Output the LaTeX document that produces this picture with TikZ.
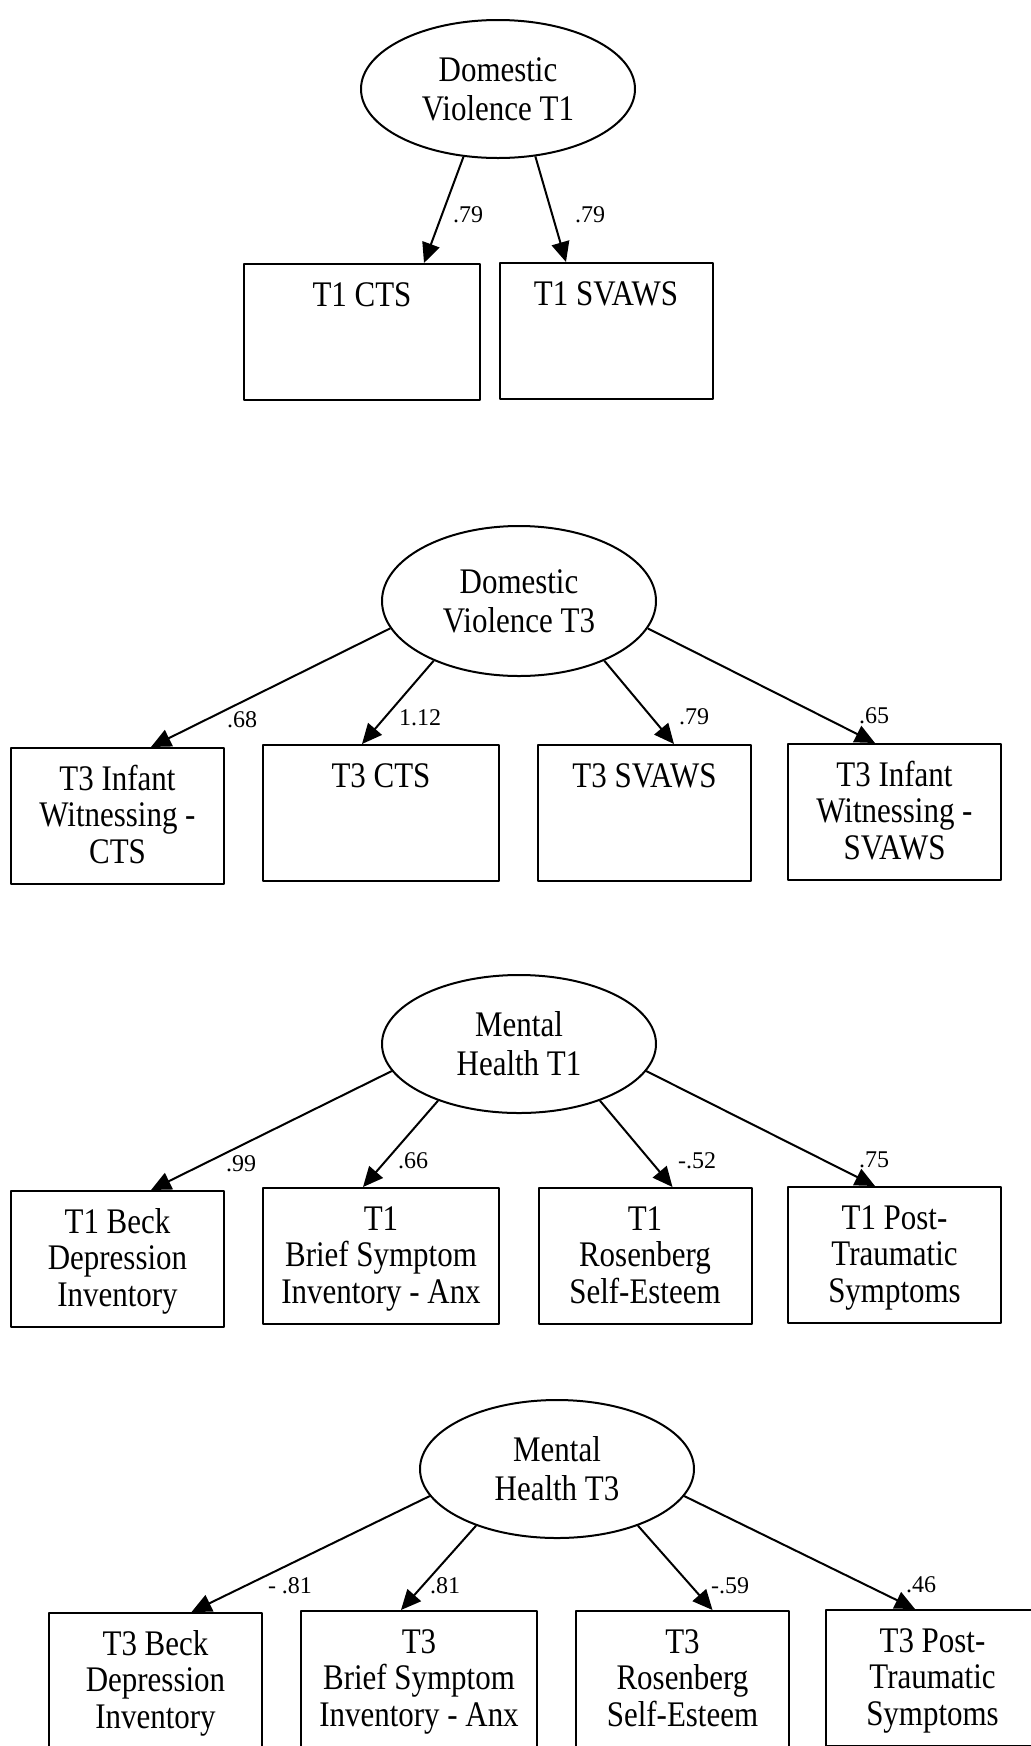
\documentclass[tikz,border=0pt]{standalone}
\usepackage{fontspec}
\setmainfont{Liberation Serif}[FakeStretch=0.86]
\newfontfamily\coeffont{Liberation Serif}
\usetikzlibrary{shapes.geometric,arrows.meta}
\newcommand{\boxtext}[1]{\begin{tabular}[t]{@{}c@{}}#1\end{tabular}}
\begin{document}
\begin{tikzpicture}[x=0.5pt,y=-0.5pt,>={Triangle[length=10pt,width=9pt]},line join=round]
	%%%% styles
	\tikzset{
		latent/.style={draw,ellipse,line width=1pt,minimum width=137pt,minimum height=69pt,inner sep=0pt,align=center,font=\fontsize{18}{19.5}\selectfont},
		obs/.style={draw,line width=1pt,minimum width=106.5pt,anchor=north,inner xsep=2pt,inner ysep=0pt,text height=21pt,text depth=47pt,font=\fontsize{18}{18.4}\selectfont},
		obswide/.style={obs,minimum width=118pt},
		load/.style={->,line width=1pt},
		coef/.style={inner sep=0pt,font=\coeffont\fontsize{12}{12}\selectfont}
	}
	\useasboundingbox (0,0) rectangle (1030,1746);
	%%%% Domestic Violence T1
	\node[latent] (dvA) at (498,89) {Domestic\\Violence T1};
	\node[obswide] (ctsA) at (362,263) {\boxtext{T1 CTS}};
	\node[obs] (svawsA) at (606,262) {\boxtext{T1 SVAWS}};
	\draw[load] (dvA.243) -- ([xshift=31pt]ctsA.north);
	\draw[load] (dvA.299) -- ([xshift=-20pt]svawsA.north);
	\node[coef] (cA1) at (468,215) {.79};
	\node[coef] (cA2) at (590,215) {.79};
	%%%% Domestic Violence T3
	\node[latent,minimum height=75pt] (dvB) at (519,601) {Domestic\\Violence T3};
	\node[obs] (infctsB) at (117.5,747) {\boxtext{T3 Infant\\Witnessing -\\CTS}};
	\node[obswide] (ctsB) at (381,744) {\boxtext{T3 CTS}};
	\node[obs] (svawsB) at (644.5,744) {\boxtext{T3 SVAWS}};
	\node[obs] (infsvB) at (894.5,743) {\boxtext{T3 Infant\\Witnessing -\\SVAWS}};
	\draw[load] (dvB.192) -- ([xshift=16.75pt]infctsB.north);
	\draw[load] (dvB.215) -- ([xshift=-9.5pt]ctsB.north);
	\draw[load] (dvB.325) -- ([xshift=14.75pt]svawsB.north);
	\draw[load] (dvB.348) -- ([xshift=-9.75pt]infsvB.north);
	\node[coef] (cB1) at (242,720) {.68};
	\node[coef] (cB2) at (420,718) {1.12};
	\node[coef] (cB3) at (694,717) {.79};
	\node[coef] (cB4) at (874,716) {.65};
	%%%% Mental Health T1
	\node[latent] (mhA) at (519,1044) {Mental\\Health T1};
	\node[obs] (beckA) at (117.5,1190) {\boxtext{T1 Beck\\Depression\\Inventory}};
	\node[obswide] (bsiA) at (381,1187) {\boxtext{T1\\Brief Symptom\\Inventory - Anx}};
	\node[obs] (rosA) at (645,1187) {\boxtext{T1\\Rosenberg\\Self-Esteem}};
	\node[obs] (ptsA) at (894.5,1186) {\boxtext{T1 Post-\\Traumatic\\Symptoms}};
	\draw[load] (mhA.192) -- ([xshift=16.75pt]beckA.north);
	\draw[load] (mhA.215) -- ([xshift=-9pt]bsiA.north);
	\draw[load] (mhA.325) -- ([xshift=13.75pt]rosA.north);
	\draw[load] (mhA.348) -- ([xshift=-9.75pt]ptsA.north);
	\node[coef] (cC1) at (241,1164) {.99};
	\node[coef] (cC2) at (413,1161) {.66};
	\node[coef] (cC3) at (697,1161) {-.52};
	\node[coef] (cC4) at (874,1160) {.75};
	%%%% Mental Health T3
	\node[latent] (mhB) at (557,1469) {Mental\\Health T3};
	\node[obs] (beckB) at (155.5,1612) {\boxtext{T3 Beck\\Depression\\Inventory}};
	\node[obswide] (bsiB) at (419,1610) {\boxtext{T3\\Brief Symptom\\Inventory - Anx}};
	\node[obs] (rosB) at (682.5,1610) {\boxtext{T3\\Rosenberg\\Self-Esteem}};
	\node[obs] (ptsB) at (932.5,1609) {\boxtext{T3 Post-\\Traumatic\\Symptoms}};
	\draw[load] (mhB.192) -- ([xshift=18pt]beckB.north);
	\draw[load] (mhB.215) -- ([xshift=-9pt]bsiB.north);
	\draw[load] (mhB.325) -- ([xshift=15pt]rosB.north);
	\draw[load] (mhB.348) -- ([xshift=-8.75pt]ptsB.north);
	\node[coef] (cD1) at (290,1586) {- .81};
	\node[coef] (cD2) at (445,1586) {.81};
	\node[coef] (cD3) at (730,1586) {-.59};
	\node[coef] (cD4) at (921,1585) {.46};
\end{tikzpicture}
\end{document}
